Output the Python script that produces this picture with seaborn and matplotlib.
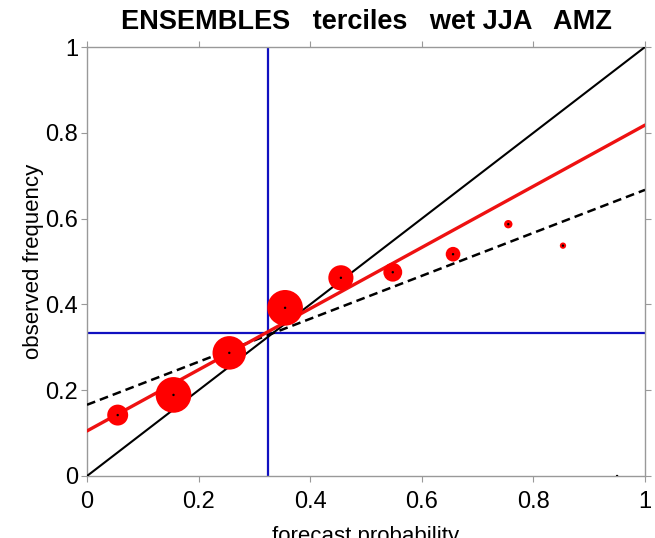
import numpy as np
import pandas as pd
import matplotlib
matplotlib.use("Agg")
import matplotlib.pyplot as plt
import seaborn as sns

# ---- data ----
forecast_prob = [0.055, 0.155, 0.255, 0.355, 0.455, 0.548, 0.656, 0.755, 0.853, 0.950]
observed_freq = [0.142, 0.189, 0.287, 0.392, 0.462, 0.475, 0.517, 0.587, 0.537, 0.000]
bin_count     = [100, 290, 256, 290, 144, 81, 49, 16, 9, 0.3]   # relative sample size (marker area)

fit_x = [0.0, 1.0]
fit_y = [0.105, 0.818]          # red regression line
resolution_y = [0.166, 0.667]   # dashed black line
diag_y = [0.0, 1.0]             # perfect reliability
climatology = 0.333             # observed base rate
forecast_clim = 0.325           # vertical blue line

x_ticks = [0, 0.2, 0.4, 0.6, 0.8, 1]
x_tick_labels = ["0", "0.2", "0.4", "0.6", "0.8", "1"]
y_ticks = [0, 0.2, 0.4, 0.6, 0.8, 1]
y_tick_labels = ["0", "0.2", "0.4", "0.6", "0.8", "1"]

title = "ENSEMBLES   terciles   wet JJA   AMZ"
xlabel = "forecast probability"
ylabel = "observed frequency"

sns.set_theme(style="white")
plt.rcParams["font.family"] = ["Liberation Sans", "DejaVu Sans"]
plt.rcParams["text.color"] = "black"
plt.rcParams["axes.labelcolor"] = "black"
plt.rcParams["axes.titlecolor"] = "black"

fig = plt.figure(figsize=(6.55, 5.38), dpi=100)
ax = fig.add_axes([87/655, 62/538, 558/655, 429/538])

pts = pd.DataFrame({"p": forecast_prob, "o": observed_freq, "n": bin_count})

# reference lines
ax.axvline(forecast_clim, color="#1010c0", lw=1.6, zorder=2)
ax.axhline(climatology, color="#1010c0", lw=1.6, zorder=2)
sns.lineplot(x=fit_x, y=diag_y, color="black", lw=1.5, ax=ax, zorder=3)
sns.lineplot(x=fit_x, y=resolution_y, color="black", lw=1.8, ax=ax, zorder=3,
             linestyle=(0, (3.5, 2.0)))
sns.lineplot(x=fit_x, y=fit_y, color="#ee1111", lw=2.4, ax=ax, zorder=3)

# reliability points
sns.scatterplot(data=pts, x="p", y="o", size="n", size_norm=(0, max(bin_count)),
                sizes=(0, 660), color="#ff0000", edgecolor="none", linewidth=0,
                legend=False, ax=ax, zorder=4)
sns.scatterplot(data=pts, x="p", y="o", color="black", s=3, edgecolor="none",
                legend=False, ax=ax, zorder=5)

ax.set_xlim(0, 1)
ax.set_ylim(0, 1)
ax.set_xticks(x_ticks)
ax.set_xticklabels(x_tick_labels)
ax.set_yticks(y_ticks)
ax.set_yticklabels(y_tick_labels)

for s in ax.spines.values():
    s.set_color("#999999")
    s.set_linewidth(1.0)

ax.tick_params(axis="both", which="both", direction="out", length=4.5, width=0.8,
               color="#999999", labelsize=17, labelcolor="black",
               top=True, right=True, bottom=True, left=True)
ax.tick_params(axis="y", pad=2)
ax.tick_params(axis="x", pad=6)
ax.grid(False)

ax.set_title(title, fontsize=19.5, fontweight="bold", pad=13)
ax.set_xlabel(xlabel, fontsize=16, labelpad=10)
ax.set_ylabel(ylabel, fontsize=16, labelpad=1)

fig.savefig("out.png", dpi=100)
